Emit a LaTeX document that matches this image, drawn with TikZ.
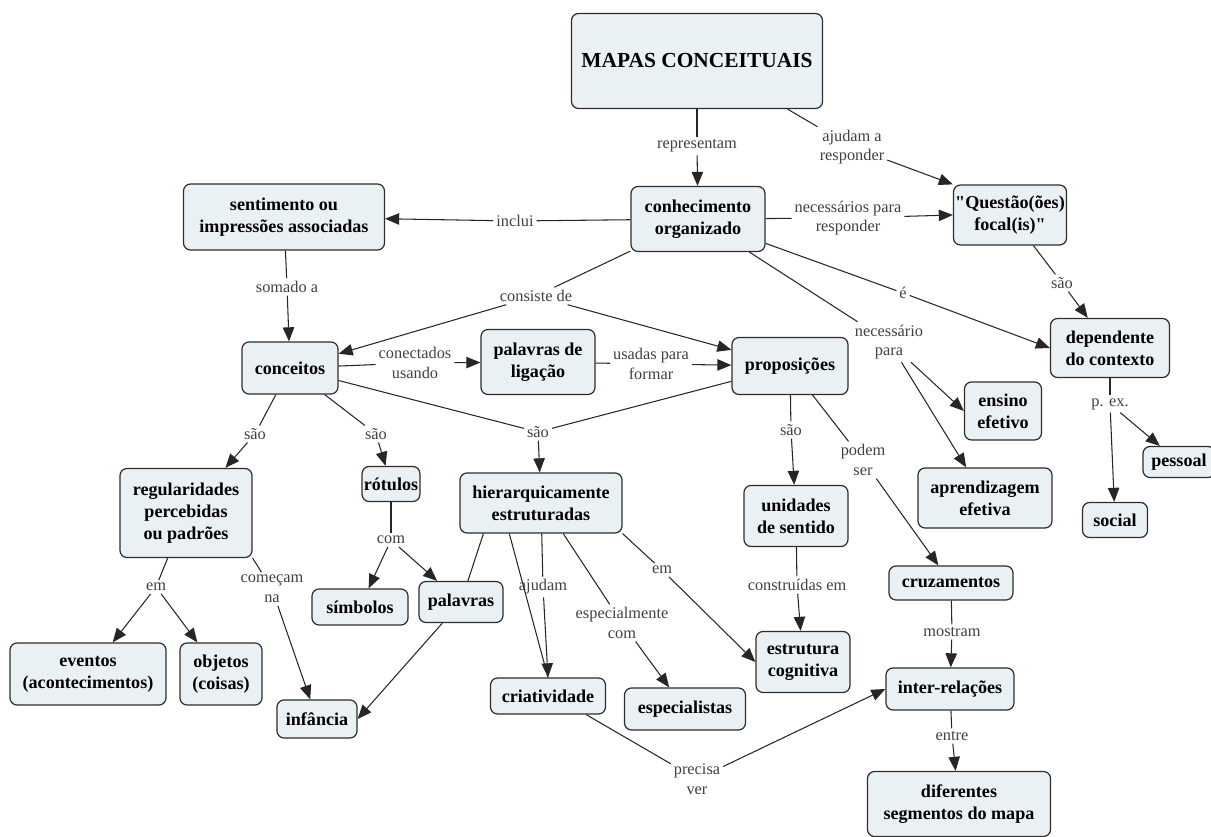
\documentclass[tikz,border=0pt]{standalone}
\usepackage{fontspec}
\setmainfont{Liberation Serif}
\newfontfamily\plainserif{Liberation Serif}
\usepackage{xcolor}
\usetikzlibrary{arrows.meta}
\definecolor{cmapfill}{RGB}{234,241,244}
\definecolor{cmapline}{RGB}{45,45,45}

\begin{document}
\begin{tikzpicture}[x=0.02cm, y=-0.02cm,
              concept/.style = {draw=cmapline, fill=cmapfill, rounded corners=4pt, line width=0.7pt,
                                align=center, inner sep=1pt, font=\fontsize{10.3}{12.5}\selectfont\bfseries},
              sz/.style 2 args = {minimum width=#1*0.02cm, minimum height=#2*0.02cm},
              link/.style = {align=center, inner sep=1.5pt, text=black!75, font=\fontsize{9.3}{11.2}\selectfont},
              ln/.style = {draw=black!85, line width=0.6pt},
              arr/.style = {ln, -{Triangle[length=8pt,width=6.5pt]}}]
  \useasboundingbox (0,0) rectangle (1211,837);

  \node[concept, sz={251}{95}, font=\fontsize{12.2}{14}\selectfont\bfseries] (mapas) at (697,61) {MAPAS CONCEITUAIS};
  \node[concept, sz={134}{65}] (conh) at (698,219) {conhecimento\\organizado};
  \node[concept, sz={201}{66}] (sent) at (284,217) {sentimento ou\\impressões associadas};
  \node[concept, sz={108}{60}] (quest) at (1010,215) {{\plainserif"}Questão(ões)\\focal(is){\plainserif"}};
  \node[concept, sz={96}{52}] (conc) at (290,368) {conceitos};
  \node[concept, sz={114}{65}] (plig) at (538,362) {palavras de\\ligação};
  \node[concept, sz={116}{57}] (prop) at (790,366) {proposições};
  \node[concept, sz={119}{59}] (dep) at (1110,348) {dependente\\do contexto};
  \node[concept, sz={77}{58}] (ens) at (1003,411) {ensino\\efetivo};
  \node[concept, sz={134}{60}] (apr) at (985,498) {aprendizagem\\efetiva};
  \node[concept, sz={72}{31}] (pes) at (1179,462) {pessoal};
  \node[concept, sz={65}{35}] (soc) at (1115,520) {social};
  \node[concept, sz={132}{89}] (reg) at (186,513) {regularidades\\percebidas\\ou padrões};
  \node[concept, sz={57}{35}] (rot) at (391,484) {rótulos};
  \node[concept, sz={162}{60}] (hier) at (541,503) {hierarquicamente\\estruturadas};
  \node[concept, sz={104}{61}] (uni) at (796,516) {unidades\\de sentido};
  \node[concept, sz={124}{34}] (cruz) at (951,583) {cruzamentos};
  \node[concept, sz={96}{36}] (simb) at (360,607) {símbolos};
  \node[concept, sz={84}{41}] (pal) at (461,602) {palavras};
  \node[concept, sz={156}{62}] (even) at (88,674) {eventos\\(acontecimentos)};
  \node[concept, sz={82}{62}] (obj) at (221,674) {objetos\\(coisas)};
  \node[concept, sz={80}{38}] (inf) at (317,719) {infância};
  \node[concept, sz={115}{36}] (crit) at (548,696) {criatividade};
  \node[concept, sz={121}{42}] (espc) at (685,709) {especialistas};
  \node[concept, sz={94}{61}] (estr) at (803,662) {estrutura\\cognitiva};
  \node[concept, sz={128}{42}] (inter) at (950,689) {inter-relações};
  \node[concept, sz={183}{65}] (dif) at (959,804) {diferentes\\segmentos do mapa};

  \node[link] (l-repr) at (697,146) {representam};
  \node[link] (l-ajud) at (852,147) {ajudam a\\responder};
  \node[link] (l-incl) at (515,221) {inclui};
  \node[link] (l-nece) at (848,218) {necessários para\\responder};
  \node[link] (l-cons) at (536,296) {consiste de};
  \node[link] (l-e) at (903,293) {é};
  \node[link] (l-npar) at (889,342) {necessário\\para};
  \node[link] (l-sao1) at (1062,283) {são};
  \node[link] (l-soma) at (287,287) {somado a};
  \node[link] (l-conu) at (415,363) {conectados\\usando};
  \node[link] (l-usad) at (651,364) {usadas para\\formar};
  \node[link] (l-sao2) at (255,434) {são};
  \node[link] (l-sao3) at (376,434) {são};
  \node[link] (l-sao4) at (538,432) {são};
  \node[link] (l-sao5) at (791,430) {são};
  \node[link] (l-pode) at (863,460) {podem\\ser};
  \node[link] (l-pex) at (1110,404) {p. ex.};
  \node[link] (l-em1) at (156,587) {em};
  \node[link] (l-come) at (272,589) {começam\\na};
  \node[link] (l-com) at (391,540) {com};
  \node[link] (l-ajda) at (543,587) {ajudam};
  \node[link] (l-espc) at (622,623) {especialmente\\com};
  \node[link] (l-em2) at (662,570) {em};
  \node[link] (l-cons2) at (797,585) {construídas em};
  \node[link] (l-most) at (952,632) {mostram};
  \node[link] (l-entr) at (952,736) {entre};
  \node[link] (l-prec) at (697,779) {precisa\\ver};

  \draw[ln] (mapas) -- (l-repr);  \draw[arr] (l-repr) -- (conh);
  \draw[ln] (mapas.332) -- (l-ajud);  \draw[arr] (l-ajud) -- (quest.north west);
  \draw[ln] (conh) -- (l-incl);  \draw[arr] (l-incl) -- (sent);
  \draw[ln] (conh) -- (l-nece);  \draw[arr] (l-nece) -- (quest.west);
  \draw[ln] (conh) -- (l-cons);  \draw[arr] (l-cons) -- (conc);  \draw[arr] (l-cons) -- (prop);
  \draw[ln] (conh) -- (l-e);  \draw[arr] (l-e) -- (dep.west);
  \draw[ln] (conh) -- (l-npar);  \draw[arr] (l-npar) -- (ens.west);  \draw[arr] (l-npar) -- (apr);
  \draw[ln] (quest) -- (l-sao1);  \draw[arr] (l-sao1) -- (dep);
  \draw[ln] (sent) -- (l-soma);  \draw[arr] (l-soma) -- (conc);
  \draw[ln] (conc) -- (l-conu);  \draw[arr] (l-conu) -- (plig);
  \draw[ln] (plig) -- (l-usad);  \draw[arr] (l-usad) -- (prop);
  \draw[ln] (conc) -- (l-sao2);  \draw[arr] (l-sao2) -- (reg);
  \draw[ln] (conc) -- (l-sao3);  \draw[arr] (l-sao3) -- (rot);
  \draw[ln] (conc) -- (l-sao4);  \draw[ln] (prop) -- (l-sao4);  \draw[arr] (l-sao4) -- (hier);
  \draw[ln] (prop) -- (l-sao5);  \draw[arr] (l-sao5) -- (uni);
  \draw[ln] (prop) -- (l-pode);  \draw[arr] (l-pode) -- (cruz);
  \draw[ln] (dep) -- (l-pex);  \draw[arr] (l-pex) -- (soc);  \draw[arr] (l-pex) -- (pes);
  \draw[ln] (reg) -- (l-em1);  \draw[arr] (l-em1) -- (even);  \draw[arr] (l-em1) -- (obj);
  \draw[ln] (reg.south east) -- (l-come);  \draw[arr] (l-come) -- (inf);
  \draw[ln] (rot) -- (l-com);  \draw[arr] (l-com) -- (simb);  \draw[arr] (l-com) -- (pal);
  \draw[ln] (hier.208) -- (pal);
  \draw[arr] (pal) -- (inf.east);
  \draw[ln] (hier.224) -- (crit.north);
  \draw[ln] (hier) -- (l-ajda);  \draw[arr] (l-ajda) -- (crit.north);
  \draw[ln] (hier.306) -- (l-espc);  \draw[arr] (l-espc) -- (espc);
  \draw[ln] (hier.south east) -- (l-em2);  \draw[arr] (l-em2) -- (estr.west);
  \draw[ln] (uni) -- (l-cons2);  \draw[arr] (l-cons2) -- (estr);
  \draw[ln] (cruz) -- (l-most);  \draw[arr] (l-most) -- (inter);
  \draw[ln] (inter) -- (l-entr);  \draw[arr] (l-entr) -- (dif);
  \draw[ln] (crit.334) -- (l-prec);  \draw[arr] (l-prec) -- (inter.west);
\end{tikzpicture}
\end{document}
